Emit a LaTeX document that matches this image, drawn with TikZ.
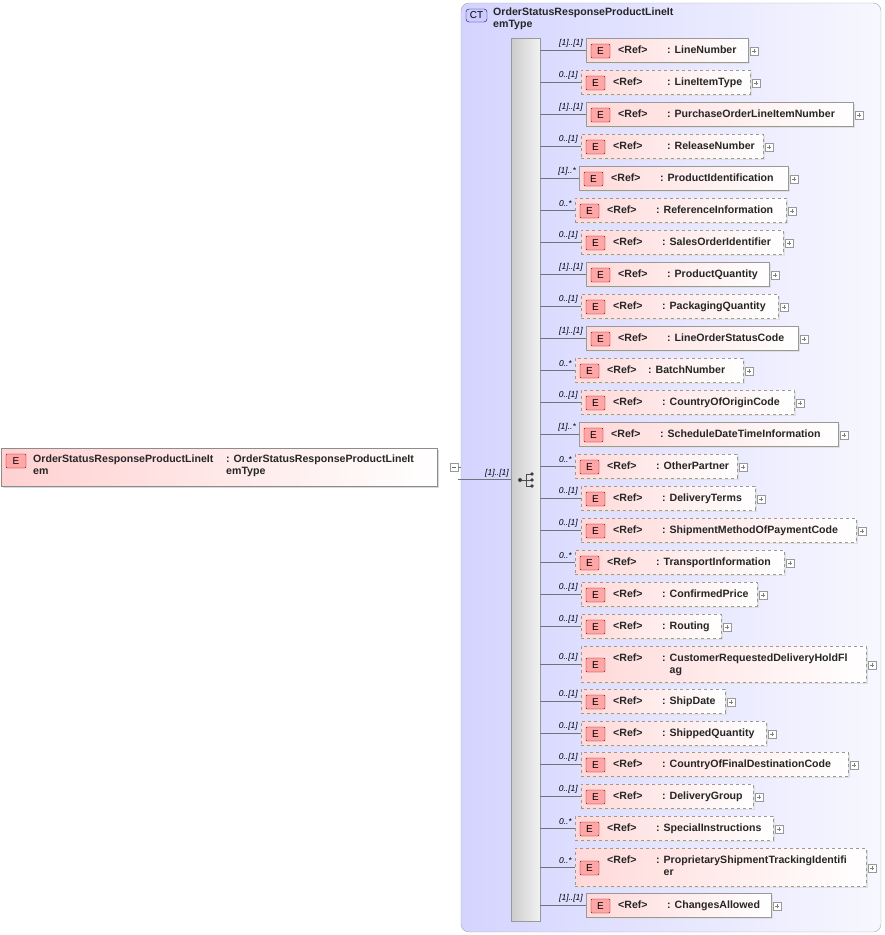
\documentclass[tikz,border=0pt]{standalone}
\usepackage{fontspec}
\setmainfont{Liberation Sans}
\begin{document}
\begin{tikzpicture}[x=1pt,y=-1pt,
  txt/.style={inner sep=0pt,font=\fontsize{10.6}{12}\selectfont\bfseries,text=black!85},
  multl/.style={inner sep=0pt,font=\fontsize{8.5}{9}\selectfont\itshape,anchor=south east},
  ebadge/.style={draw=red!60!black,fill=red!35,rounded corners=1pt},
  plusb/.style={draw=black!40,fill=white,line width=0.4pt},
  conn/.style={draw=black!55,line width=0.5pt}]
\useasboundingbox (0,0) rectangle (885,935);
% container
\draw[draw=black!35,rounded corners=8pt,left color=blue!17,right color=blue!3] (461,3) rectangle (881,932);
\draw[draw=blue!50!black,fill=blue!20,rounded corners=3pt] (466,9) rectangle (487,22);
\node[inner sep=0pt,font=\fontsize{10}{10}\selectfont] at (476.5,15.5) {CT};
\node[txt,anchor=north west,align=left] (cthead) at (493,8) {OrderStatusResponseProductLineIt\\emType};
% sequence bar
\node[draw=black!40,left color=black!20,right color=black!5,minimum width=29pt,minimum height=883pt,anchor=north west,inner sep=0pt] (seq) at (511,38) {};
% sequence icon
\draw[black!70,line width=0.8pt] (520,480)--(526,480) (526,474)--(526,486) (526,474)--(531,474) (526,486)--(531,486) (526,480)--(531,480);
\fill[black!75] (520,480) circle (2);
\fill[black!75] (532,474) circle (1.8) (532,480) circle (1.8) (532,486) circle (1.8);
% main element
\fill[black!15] (3,450) rectangle (439,488);
\node[draw=black!45,left color=red!18,right color=white,minimum width=436pt,minimum height=38pt,anchor=north west,inner sep=0pt] (main) at (1,448) {};
\draw[ebadge] (6,454) rectangle (26,468);
\node[inner sep=0pt,font=\fontsize{10}{10}\selectfont] at (16,461) {E};
\node[txt,anchor=north west,align=left] (mname) at (33,455) {OrderStatusResponseProductLineIt\\em};
\node[txt,anchor=north west,align=left] (mtype) at (226,455) {: OrderStatusResponseProductLineIt\\emType};
\draw[plusb] (450,463) rectangle (458,471);
\draw[black!60] (452,467)--(456,467);
\coordinate (mainout) at (458,479);
\draw[conn] (mainout) -- (seq.west |- mainout);
\draw[conn] (458,467) -- (461,467);
\node[multl] at (509,477) {[1]..[1]};
\newcommand\elem[9]{%
  \fill[black!12] (#4+2,#2+2) rectangle (#5+2,#3+2);
  \node[draw=black!40,#9,left color=red!15,right color=white,minimum width={(#5-#4)*1pt},minimum height={(#3-#2)*1pt},anchor=north west,inner sep=0pt] (#1) at (#4,#2) {};
  \draw[ebadge] (#4+5,{(#2+#3)/2-6}) rectangle (#4+24,{(#2+#3)/2+8});
  \node[inner sep=0pt,font=\fontsize{10}{10}\selectfont] at (#4+14.5,{(#2+#3)/2+1}) {E};
  \node[txt,anchor=north west] at (#4+32,#2+8) {<Ref>};
  \node[txt,anchor=north west,align=left] at (#6,#2+8) {: #8};
  \draw[plusb] (#5+2,{(#2+#3)/2-3}) rectangle (#5+10,{(#2+#3)/2+5});
  \draw[black!50] (#5+4,{(#2+#3)/2+1})--(#5+8,{(#2+#3)/2+1}) (#5+6,{(#2+#3)/2-1})--(#5+6,{(#2+#3)/2+3});
  \draw[conn] (seq.east |- #1.west) -- (#1.west);
  \node[multl] at (#4-3,{(#2+#3)/2-3}) {#7};
}
\elem{e1}{38}{62}{586}{748}{667}{[1]..[1]}{LineNumber}{solid}
\elem{e2}{70}{94}{581}{750}{667}{0..[1]}{LineItemType}{dashed}
\elem{e3}{102}{126}{586}{853}{667}{[1]..[1]}{PurchaseOrderLineItemNumber}{solid}
\elem{e4}{134}{158}{581}{763}{667}{0..[1]}{ReleaseNumber}{dashed}
\elem{e5}{166}{190}{579}{788}{660}{[1]..*}{ProductIdentification}{solid}
\elem{e6}{198}{222}{575}{786}{656}{0..*}{ReferenceInformation}{dashed}
\elem{e7}{230}{254}{581}{783}{662}{0..[1]}{SalesOrderIdentifier}{dashed}
\elem{e8}{262}{286}{586}{769}{667}{[1]..[1]}{ProductQuantity}{solid}
\elem{e9}{294}{318}{581}{778}{662}{0..[1]}{PackagingQuantity}{dashed}
\elem{e10}{326}{350}{586}{798}{667}{[1]..[1]}{LineOrderStatusCode}{solid}
\elem{e11}{358}{382}{575}{743}{648}{0..*}{BatchNumber}{dashed}
\elem{e12}{390}{414}{581}{794}{662}{0..[1]}{CountryOfOriginCode}{dashed}
\elem{e13}{422}{446}{579}{838}{660}{[1]..*}{ScheduleDateTimeInformation}{solid}
\elem{e14}{454}{478}{575}{737}{656}{0..*}{OtherPartner}{dashed}
\elem{e15}{486}{510}{581}{755}{662}{0..[1]}{DeliveryTerms}{dashed}
\elem{e16}{518}{542}{581}{856}{662}{0..[1]}{ShipmentMethodOfPaymentCode}{dashed}
\elem{e17}{550}{574}{575}{784}{656}{0..*}{TransportInformation}{dashed}
\elem{e18}{582}{606}{581}{757}{662}{0..[1]}{ConfirmedPrice}{dashed}
\elem{e19}{614}{638}{581}{721}{662}{0..[1]}{Routing}{dashed}
\elem{e20}{646}{682}{581}{866}{662}{0..[1]}{CustomerRequestedDeliveryHoldFl\\\hphantom{: }ag}{dashed}
\elem{e21}{689}{713}{581}{725}{662}{0..[1]}{ShipDate}{dashed}
\elem{e22}{721}{745}{581}{766}{662}{0..[1]}{ShippedQuantity}{dashed}
\elem{e23}{752}{776}{581}{848}{662}{0..[1]}{CountryOfFinalDestinationCode}{dashed}
\elem{e24}{784}{808}{581}{753}{662}{0..[1]}{DeliveryGroup}{dashed}
\elem{e25}{816}{840}{575}{773}{656}{0..*}{SpecialInstructions}{dashed}
\elem{e26}{848}{886}{575}{866}{656}{0..*}{ProprietaryShipmentTrackingIdentifi\\\hphantom{: }er}{dashed}
\elem{e27}{893}{917}{586}{771}{667}{[1]..[1]}{ChangesAllowed}{solid}
\end{tikzpicture}
\end{document}
